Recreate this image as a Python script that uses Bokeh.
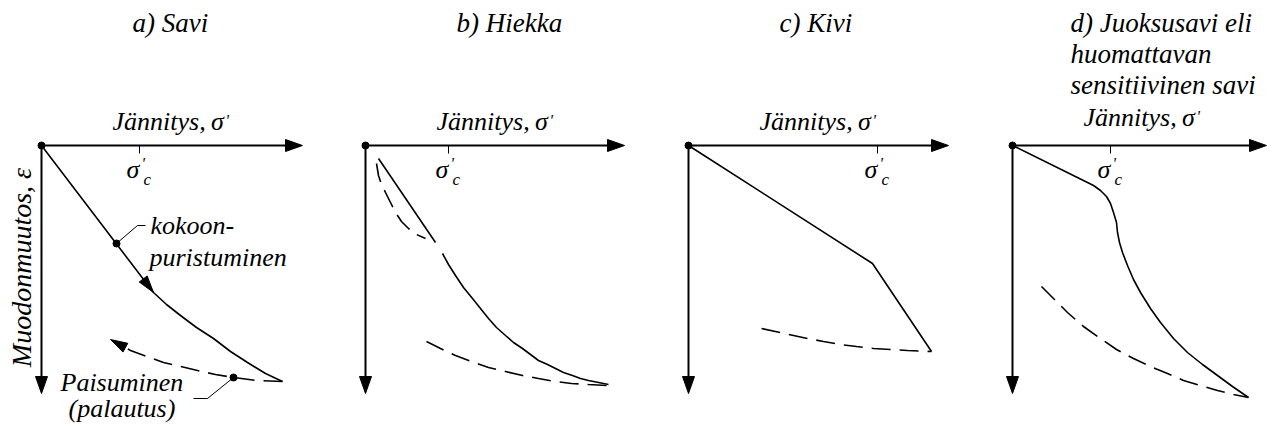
import math
from bokeh.plotting import figure
from bokeh.models import Range1d
from bokeh.layouts import row
from bokeh.core.properties import value
from bokeh.embed import file_html
from bokeh.resources import INLINE

FONT = value("Liberation Serif")

# Drawing units: stress σ' grows to the right, strain ε grows downward,
# measured from each panel's origin.
panel_titles = [["a) Savi"], ["b) Hiekka"], ["c) Kivi"],
                ["d) Juoksusavi eli", "huomattavan", "sensitiivinen savi"]]
stress_word = "Jännitys,"
stress_symbol = "σ"
prime = "'"
strain_label = "Muodonmuutos, ε"
sigma_c_pos = [98, 83, 189, 98]          # σ'c on each stress axis

# a) clay: loading (solid) and unloading / swelling (dashed)
a_load_x = [0, 112, 125, 139, 155, 172, 189, 206, 224, 241]
a_load_y = [0, 147, 159, 170, 182, 193, 206, 217, 228, 236]
a_unload_x = [241, 215, 192, 174, 156, 139, 122, 105, 89, 69]
a_unload_y = [236, 235, 232, 229, 225, 221, 217, 211, 205, 194]
a_load_mark = (75, 98)
a_unload_mark = (192, 232)

# b) sand
b_load1_x = [13, 70]
b_load1_y = [13, 97]
b_load2_x = [77, 83, 90, 98, 107, 115, 123, 131, 140, 148, 157, 165, 173, 182, 190, 198, 207, 215, 223, 233, 243]
b_load2_y = [108, 119, 130, 142, 153, 163, 173, 182, 190, 197, 203, 209, 215, 219, 223, 227, 230, 233, 235, 237, 239]
b_unload1_x = [11, 12, 13, 16, 20, 25, 30, 36, 43, 51, 60]
b_unload1_y = [18, 24, 30, 39, 47, 57, 67, 76, 83, 89, 93]
b_unload2_x = [61, 75, 90, 106, 123, 140, 157, 173, 190, 206, 223, 242]
b_unload2_y = [196, 203, 210, 216, 222, 226, 230, 233, 236, 238, 239, 240]

# c) rock
c_load_x = [0, 184, 243]
c_load_y = [0, 118, 206]
c_unload_x = [73, 96, 119, 135, 152, 168, 185, 202, 219, 243]
c_unload_y = [183, 188, 193, 196, 199, 201, 203, 204, 205, 206]

# d) quick clay / highly sensitive clay
d_load_x = [0, 75, 81, 88, 94, 98, 101, 104, 105, 107, 110, 115, 121, 128, 138, 148, 161, 175, 190, 205, 220, 236]
d_load_y = [0, 37, 40, 45, 51, 58, 67, 77, 87, 97, 107, 120, 134, 147, 163, 177, 193, 207, 219, 230, 241, 252]
d_unload_x = [29, 42, 55, 71, 88, 104, 121, 138, 155, 171, 188, 205, 221, 236]
d_unload_y = [141, 154, 167, 181, 193, 204, 213, 221, 228, 235, 240, 245, 249, 252]

# panel geometry (pixels)
PANEL_W = [320, 320, 320, 307]
ORIGIN_X = [41, 45, 48, 52]
ORIGIN_Y = 145
HEIGHT = 425
AXIS_X_LEN = [261, 259, 260, 254]
AXIS_Y_LEN = 248

HEAD_LEN = 17
HEAD_HALF = 5.5
DASH = "19 9"

BODY = "26px"
TITLE = "27px"


def head(tip, frm, length=HEAD_LEN, half=HEAD_HALF):
    dx, dy = tip[0] - frm[0], tip[1] - frm[1]
    n = math.hypot(dx, dy)
    ux, uy = dx / n, dy / n
    bx, by = tip[0] - ux * length, tip[1] - uy * length
    px, py = -uy * half, ux * half
    return [tip[0], bx + px, bx - px], [tip[1], by + py, by - py]


def label(p, xs, ys, texts, size=BODY, **kw):
    p.text(xs, ys, text=texts, text_font=FONT, text_font_style="italic",
           text_font_size=size, text_color="black",
           text_align=kw.pop("align", "left"),
           text_baseline=kw.pop("baseline", "alphabetic"), **kw)


def make_panel(i):
    w = PANEL_W[i]
    ox = ORIGIN_X[i]
    p = figure(width=w, height=HEIGHT,
               x_range=Range1d(-ox, w - ox),
               y_range=Range1d(HEIGHT - ORIGIN_Y, -ORIGIN_Y),
               output_backend="svg", toolbar_location=None,
               x_axis_type=None, y_axis_type=None, min_border=0)
    p.grid.visible = False
    p.outline_line_color = None
    p.background_fill_color = "white"
    p.border_fill_color = "white"

    # stress and strain axes with arrowheads
    lx = AXIS_X_LEN[i]
    p.line([0, lx - HEAD_LEN + 2], [0, 0], line_color="black", line_width=2)
    p.line([0, 0], [0, AXIS_Y_LEN - HEAD_LEN + 2], line_color="black", line_width=2)
    hx, hy = head((lx, 0), (0, 0), length=HEAD_LEN, half=6)
    vx, vy = head((0, AXIS_Y_LEN), (0, 0), length=HEAD_LEN, half=6)
    p.patches([hx, vx], [hy, vy], fill_color="black", line_color="black", line_width=1)
    p.scatter([0], [0], size=7, color="black")

    # σ'c tick and label
    sc = sigma_c_pos[i]
    p.line([sc, sc], [0, 8], line_color="black", line_width=1)
    label(p, [sc - 6.5], [24], [stress_symbol], align="center")
    label(p, [sc + 2], [9], [prime], size="16px", baseline="top")
    label(p, [sc + 4], [34], ["c"], size="17px")

    # stress axis label: "Jännitys, σ'"
    ly = -24 if i < 3 else -28
    label(p, [71], [ly], [stress_word])
    label(p, [176], [ly], [stress_symbol], align="center")
    label(p, [184], [ly - 10], [prime], size="16px", baseline="top")

    # panel title
    lines = panel_titles[i]
    tx = 91 if i < 3 else 58
    label(p, [tx] * len(lines), [-123 + 31 * k for k in range(len(lines))], lines, size=TITLE)
    return p


def curve(p, xs, ys, dashed=False):
    p.line(xs, ys, line_color="black", line_width=1.6,
           line_dash=DASH if dashed else "solid")


panels = [make_panel(i) for i in range(4)]

# a) clay
pa = panels[0]
curve(pa, a_load_x, a_load_y)
curve(pa, a_unload_x[:-1] + [a_unload_x[-1] + 10], a_unload_y[:-1] + [a_unload_y[-1] + 5], dashed=True)
ax1, ay1 = head((a_load_x[1], a_load_y[1]), (a_load_x[0], a_load_y[0]), length=17, half=5)
ax2, ay2 = head((a_unload_x[-1], a_unload_y[-1]), (a_unload_x[-2], a_unload_y[-2]), length=17, half=5)
pa.patches([ax1, ax2], [ay1, ay2], fill_color="black", line_color="black", line_width=1)
pa.scatter([a_load_mark[0], a_unload_mark[0]], [a_load_mark[1], a_unload_mark[1]],
           size=7, color="black")
pa.line([a_load_mark[0], 96, 104], [a_load_mark[1], 80, 80], line_color="black", line_width=1)
pa.line([a_unload_mark[0], 166, 152], [a_unload_mark[1], 253, 253], line_color="black", line_width=1)
label(pa, [109, 108], [80, 112], ["kokoon-", "puristuminen"])
label(pa, [19, 27], [237, 263], ["Paisuminen", "(palautus)"])
label(pa, [-20], [122], [strain_label], size="28px", align="center", baseline="middle",
      angle=math.pi / 2)

# b) sand
pb = panels[1]
curve(pb, b_load1_x, b_load1_y)
curve(pb, b_load2_x, b_load2_y)
curve(pb, b_unload1_x, b_unload1_y, dashed=True)
curve(pb, b_unload2_x, b_unload2_y, dashed=True)

# c) rock
pc = panels[2]
curve(pc, c_load_x, c_load_y)
curve(pc, c_unload_x, c_unload_y, dashed=True)

# d) quick clay
pd = panels[3]
curve(pd, d_load_x, d_load_y)
curve(pd, d_unload_x, d_unload_y, dashed=True)

layout = row(*panels, spacing=0)
open("out.html", "w").write(file_html(layout, INLINE))
